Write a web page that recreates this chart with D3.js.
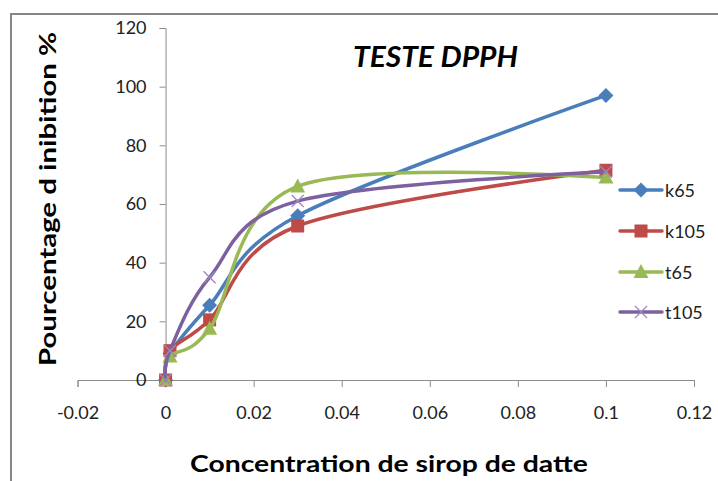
<!DOCTYPE html>
<html><head><meta charset="utf-8">
<script src="https://cdn.jsdelivr.net/npm/d3@7"></script>
<style>
html,body{margin:0;padding:0;background:#fff;}
svg{display:block;}
text{font-family:Lato,"Open Sans",sans-serif;}
</style></head>
<body>
<svg id="chart" width="718" height="481"></svg>
<script>
const concentrations = [0, 0.001, 0.01, 0.03, 0.1];
const k65  = [0, 9, 25.5, 56, 97];
const k105 = [0, 10, 20.5, 52.5, 71.5];
const t65  = [0, 8, 17.5, 66, 69];
const t105 = [0, 10, 35, 61, 71];
const seriesNames = ["k65", "k105", "t65", "t105"];
const xTicks = [-0.02, 0, 0.02, 0.04, 0.06, 0.08, 0.1, 0.12];
const xTickLabels = ["-0.02", "0", "0.02", "0.04", "0.06", "0.08", "0.1", "0.12"];
const yTicks = [0, 20, 40, 60, 80, 100, 120];
const title = "TESTE DPPH";
const xTitle = "Concentration de sirop de datte";
const yTitle = "Pourcentage d inibition %";

const colors = {k65:"#4A7EBB", k105:"#BE4B48", t65:"#98B954", t105:"#7D60A0"};
const markers = {k65:"diamond", k105:"square", t65:"triangle", t105:"x"};
const valuesBy = {k65, k105, t65, t105};

const svg = d3.select("#chart");
const x = d3.scaleLinear().domain([-0.02, 0.12]).range([77.5, 694]);
const y = d3.scaleLinear().domain([0, 120]).range([380, 28]);

// outer border (top and left)
svg.append("path").attr("d","M11,718 L11,14 L718,14").attr("fill","none")
  .attr("stroke","#868686").attr("stroke-width",2);

const axisColor = "#8c8c8c";
// x axis at y=0
const xAxis = svg.append("g").attr("transform",`translate(0,${y(0)})`)
  .call(d3.axisBottom(x).tickValues(xTicks).tickSize(7).tickPadding(19)
    .tickFormat((d,i) => xTickLabels[i]));
xAxis.select(".domain").attr("stroke",axisColor).attr("stroke-width",1);
xAxis.selectAll(".tick line").attr("stroke",axisColor);
xAxis.selectAll(".tick text").attr("font-size",18).attr("fill","#222")
  .style("font-family","Lato, sans-serif");

// y axis at x=0
const yAxis = svg.append("g").attr("transform",`translate(${x(0)},0)`)
  .call(d3.axisLeft(y).tickValues(yTicks).tickSize(6).tickPadding(13));
yAxis.select(".domain").attr("stroke",axisColor).attr("stroke-width",1);
yAxis.selectAll(".tick line").attr("stroke",axisColor);
yAxis.selectAll(".tick text").attr("font-size",18).attr("fill","#222")
  .style("font-family","Lato, sans-serif");

const line = d3.line().x(d=>x(d[0])).y(d=>y(d[1])).curve(d3.curveCardinal.tension(0));

function drawMarker(g, type, cx, cy, color){
  if(type==="diamond"){
    g.append("path").attr("d",`M${cx},${cy-7.5}L${cx+7.5},${cy}L${cx},${cy+7.5}L${cx-7.5},${cy}Z`).attr("fill",color);
  } else if(type==="square"){
    g.append("rect").attr("x",cx-6.5).attr("y",cy-6.5).attr("width",13).attr("height",13).attr("fill",color);
  } else if(type==="triangle"){
    g.append("path").attr("d",`M${cx},${cy-8}L${cx+7.5},${cy+6}L${cx-7.5},${cy+6}Z`).attr("fill",color);
  } else {
    g.append("path").attr("d",`M${cx-6},${cy-6}L${cx+6},${cy+6}M${cx-6},${cy+6}L${cx+6},${cy-6}`)
      .attr("stroke","#9d88bd").attr("stroke-width",1.3).attr("fill","none");
  }
}

seriesNames.forEach(name => {
  const data = concentrations.map((c,i)=>[c, valuesBy[name][i]]);
  const g = svg.append("g");
  g.append("path").datum(data).attr("d",line).attr("fill","none")
    .attr("stroke",colors[name]).attr("stroke-width",3.5).attr("stroke-linejoin","round").attr("stroke-linecap","round");
  data.forEach(d => drawMarker(g, markers[name], x(d[0]), y(d[1]), colors[name]));
});

// legend
const legendY = [190, 231, 272, 312];
seriesNames.forEach((name,i) => {
  const g = svg.append("g");
  g.append("line").attr("x1",620).attr("x2",662).attr("y1",legendY[i]).attr("y2",legendY[i])
    .attr("stroke",colors[name]).attr("stroke-width",3.5).attr("stroke-linecap","round");
  drawMarker(g, markers[name], 641, legendY[i], colors[name]);
  g.append("text").attr("x",665).attr("y",legendY[i]+6.5).attr("font-size",18).attr("fill","#222").text(name);
});

// titles
svg.append("text").attr("x",435.5).attr("y",66.5).attr("text-anchor","middle")
  .attr("font-size",28).attr("font-weight","bold").attr("font-style","italic")
  .attr("textLength",165).attr("lengthAdjust","spacingAndGlyphs").text(title);
svg.append("text").attr("x",389).attr("y",471.5).attr("text-anchor","middle")
  .attr("font-size",23).attr("font-weight","bold")
  .attr("textLength",398).attr("lengthAdjust","spacingAndGlyphs").text(xTitle);
svg.append("text").attr("transform","translate(56,199) rotate(-90)").attr("text-anchor","middle")
  .attr("font-size",23).attr("font-weight","bold")
  .attr("textLength",334).attr("lengthAdjust","spacingAndGlyphs").text(yTitle);
</script>
</body></html>
